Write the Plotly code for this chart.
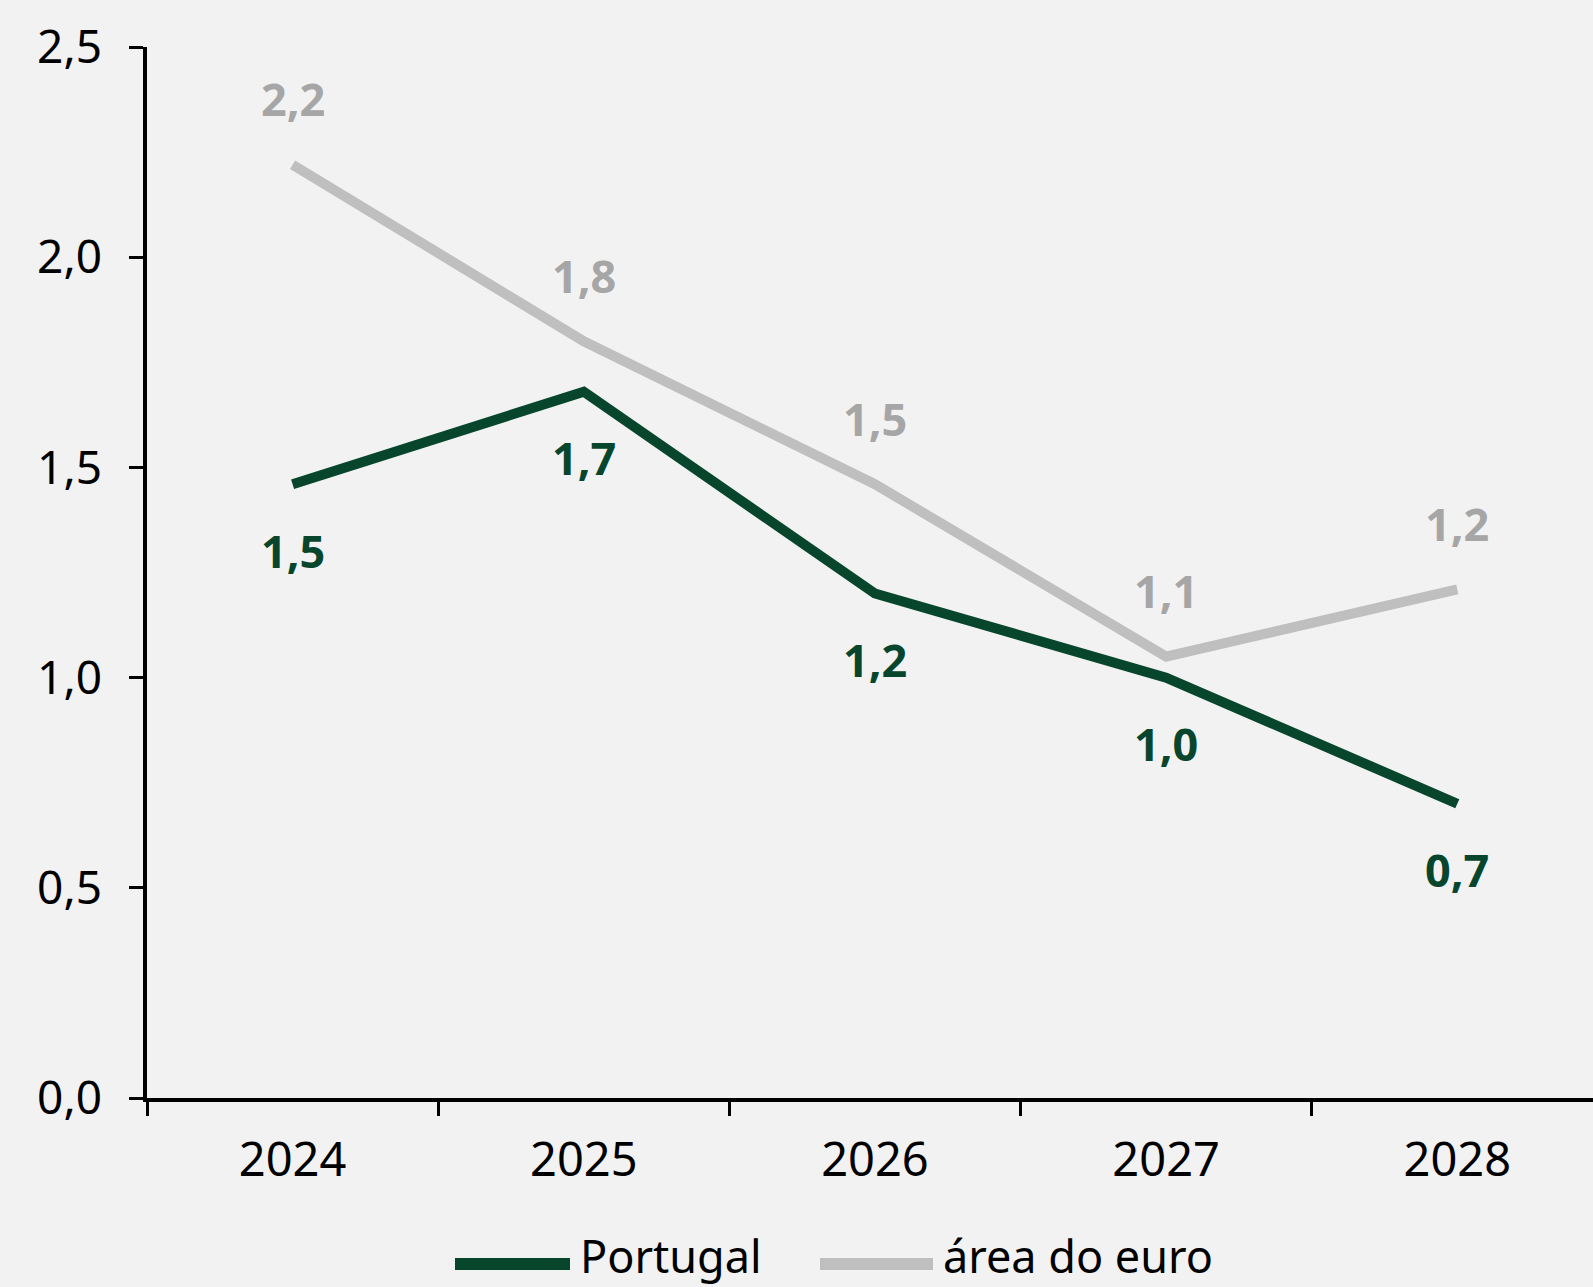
import plotly.graph_objects as go

# Data
years = ["2024", "2025", "2026", "2027", "2028"]
portugal = [1.46, 1.68, 1.20, 1.00, 0.70]
euro_area = [2.22, 1.80, 1.46, 1.05, 1.21]
portugal_labels = ["1,5", "1,7", "1,2", "1,0", "0,7"]
euro_labels = ["2,2", "1,8", "1,5", "1,1", "1,2"]
y_ticks = [0, 0.5, 1.0, 1.5, 2.0, 2.5]

GREEN = "#07462D"
GREY_LINE = "#BFBFBF"
GREY_TEXT = "#A6A6A6"
BG = "#F2F2F2"
FONT = "Noto Sans"

W, H = 1593, 1287
L, T, B = 147, 47, 189
plot_w = W - L
plot_h = H - T - B


def px(x):
    # pixel x -> paper x
    return (x - L) / plot_w


def py(y):
    # pixel y -> paper y
    return (H - B - y) / plot_h


fig = go.Figure()

fig.add_trace(go.Scatter(x=years, y=euro_area, mode='lines', name='área do euro',
                         line=dict(color=GREY_LINE, width=10)))
fig.add_trace(go.Scatter(x=years, y=portugal, mode='lines', name='Portugal',
                         line=dict(color=GREEN, width=10)))

# value labels (x given as category index)
annotations = []
for i, (v, lab) in enumerate(zip(euro_area, euro_labels)):
    annotations.append(dict(x=i, y=v, xref='x', yref='y', text='<b>%s</b>' % lab,
                            showarrow=False, yshift=66,
                            font=dict(family=FONT, size=45, color=GREY_TEXT)))
for i, (v, lab) in enumerate(zip(portugal, portugal_labels)):
    annotations.append(dict(x=i, y=v, xref='x', yref='y', text='<b>%s</b>' % lab,
                            showarrow=False, yshift=-66,
                            font=dict(family=FONT, size=45, color=GREEN)))

# hand-drawn legend at the bottom
legend_items = [("Portugal", GREEN, 455, 570, 578),
                ("área do euro", GREY_LINE, 820, 933, 941)]
shapes = []
for name, col, x0, x1, tx in legend_items:
    shapes.append(dict(type='line', xref='paper', yref='paper',
                       x0=px(x0), x1=px(x1), y0=py(1264), y1=py(1264),
                       line=dict(color=col, width=12)))
    annotations.append(dict(xref='paper', yref='paper', x=px(tx), y=py(1255),
                            xanchor='left', yanchor='middle', text=name, showarrow=False,
                            font=dict(family=FONT, size=45, color='#000000')))

fig.update_layout(
    width=W, height=H,
    margin=dict(l=L, r=0, t=T, b=B),
    paper_bgcolor=BG, plot_bgcolor=BG,
    separators=", ",
    showlegend=False,
    shapes=shapes,
    annotations=annotations,
    font=dict(family=FONT, size=47, color='#000000'),
)

fig.update_xaxes(
    type='category', range=[-0.5, 4.466],
    showline=True, linecolor='#000000', linewidth=3.5,
    ticks='outside', tickson='boundaries', ticklen=14, tickwidth=3, tickcolor='#000000',
    ticklabelstandoff=18, showgrid=False, zeroline=False,
    tickfont=dict(family=FONT, size=47, color='#000000'),
)
fig.update_yaxes(
    range=[0, 2.5], tickvals=y_ticks, tickformat='.1f',
    showline=True, linecolor='#000000', linewidth=3.5,
    ticks='outside', ticklen=14, tickwidth=3, tickcolor='#000000',
    ticklabelstandoff=18, showgrid=False, zeroline=False,
    tickfont=dict(family=FONT, size=46, color='#000000'),
)

fig.write_html("out.html", config={'displayModeBar': False},
               post_script="document.body.style.margin='0';")
